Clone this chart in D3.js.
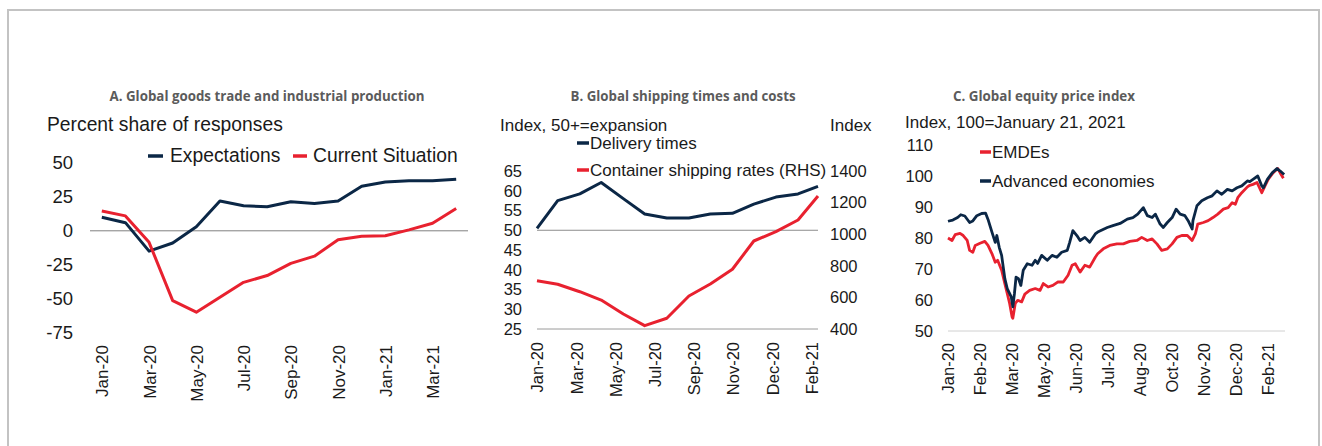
<!DOCTYPE html>
<html><head><meta charset="utf-8">
<script src="https://cdn.jsdelivr.net/npm/d3@7"></script>
<style>
html,body{margin:0;padding:0;background:#fff;}
svg{display:block;}
text{font-family:'Liberation Sans',Arial,Helvetica,sans-serif;fill:#1a1a1a;}
</style>
</head><body>
<svg id="chart" width="1322" height="446"></svg>
<script>
// ---------- Panel A data ----------
const monthsA = ["Jan-20","Feb-20","Mar-20","Apr-20","May-20","Jun-20","Jul-20","Aug-20","Sep-20","Oct-20","Nov-20","Dec-20","Jan-21","Feb-21","Mar-21","Apr-21"];
const expectations = [10,6,-15,-9,3,22,18.5,17.7,21.4,20.2,22,32.8,36,37,37,38];
const currentSituation = [14.6,11,-8.5,-51.5,-60,-49,-38,-33,-24,-18.7,-6.6,-4,-3.6,0.7,5.6,16.5];
const yTicksA = [50,25,0,-25,-50,-75];
const xTickLabelsA = ["Jan-20","Mar-20","May-20","Jul-20","Sep-20","Nov-20","Jan-21","Mar-21"];

// ---------- Panel B data ----------
const shipDates = ["2020-01-31","2020-02-29","2020-03-31","2020-04-30","2020-05-31","2020-06-30","2020-07-31","2020-08-31","2020-09-30","2020-10-31","2020-11-30","2020-12-31","2021-01-31","2021-02-28"];
const deliveryTimes = [50.5,57.5,59.2,62.1,58,54.1,53.1,53.1,54.1,54.3,56.6,58.4,59.2,61.1];
const containerRates = [706,683,636,583,495,421,468,609,685,778,957,1016,1090,1242];
const yTicksBLeft = [25,30,35,40,45,50,55,60,65];
const yTicksBRight = [400,600,800,1000,1200,1400];
const xTickLabelsB = ["Jan-20","Mar-20","May-20","Jul-20","Sep-20","Nov-20","Dec-20","Feb-21"];

// ---------- Panel C data (days since 2 Jan 2020) ----------
const advDays = [0,6,12,16,21,27,31,36,42,47,50,55,59,61,64,67,71,74,79,81,83,85,88,91,94,99,105,109,112,117,124,130,136,142,149,152,156,161,165,171,177,184,187,199,206,215,224,231,237,244,249,255,259,265,269,274,280,285,290,296,300,305,306,311,317,324,330,336,342,349,355,361,367,374,377,381,387,392,394,399,405,411,415,420];
const advanced = [85.4,85.8,86.6,87.5,87.1,85.0,85.5,87.2,87.9,88.0,86.0,81.8,78.6,80.8,77.0,74.4,66.9,63.7,61.0,57.8,62.1,67.4,66.9,64.7,69.6,71.7,71.2,72.8,71.8,74.4,72.8,74.4,73.8,75.4,76.0,78.6,82.4,80.8,79.2,80.2,78.6,81.3,81.9,83.4,84.0,84.7,86.1,86.6,87.7,89.8,87.2,86.6,87.7,84.5,83.4,85.0,86.6,89.3,87.7,87.2,85.6,82.9,85.6,90.4,92.0,93.0,93.6,95.2,94.1,95.7,95.2,96.2,96.8,98.4,98.2,98.9,100.0,96.8,96.2,98.9,101.0,102.4,101.6,100.5];
const emdeDays = [0,5,9,15,19,24,27,31,34,40,46,50,55,59,62,67,71,74,77,80,81,84,87,92,96,102,109,115,119,125,131,137,144,150,155,159,165,171,177,184,187,194,202,211,219,227,236,242,249,255,261,267,274,280,286,292,299,305,309,312,319,325,331,337,344,350,355,359,362,367,374,377,381,386,392,396,400,406,412,415,419];
const emdes = [80.0,79.2,81.1,81.5,80.8,79.2,76.0,75.4,77.6,78.3,78.9,77.6,74.9,72.2,72.8,69.6,65.3,62.1,58.9,54.6,54.1,58.9,59.9,59.4,61.9,63.1,63.7,63.1,65.3,64.2,64.7,65.8,65.8,68.0,71.2,71.7,69.0,71.2,70.6,73.8,74.9,76.5,77.6,78.1,78.1,78.9,79.2,80.2,79.2,79.7,78.1,76.0,76.5,78.1,80.2,80.8,80.8,79.2,81.3,84.5,85.0,85.6,86.6,87.7,89.3,89.8,91.4,90.9,93.0,94.6,96.5,97.0,97.3,97.9,94.6,96.8,98.9,101.0,102.4,101.0,99.3];
const yTicksC = [50,60,70,80,90,100,110];
const xTickLabelsC = ["Jan-20","Feb-20","Mar-20","May-20","Jun-20","Jul-20","Aug-20","Oct-20","Nov-20","Dec-20","Feb-21"];

// ---------- styles ----------
const NAVY = "#0b2746", RED = "#e8212f", TITLE = "#5b5b5b";
const plain = d => String(d);
const svg = d3.select("#chart");

// outer border
svg.append("path").attr("d","M8,446V10H1319V446").attr("fill","none").attr("stroke","#c3c3c3").attr("stroke-width",2);

function title(txt, cx, width){
  svg.append("text").attr("x",cx).attr("y",101).attr("text-anchor","middle")
    .style("font-family","'Open Sans',Lato,sans-serif").style("font-weight","700")
    .style("font-size","14px").style("fill",TITLE)
    .attr("textLength",width).attr("lengthAdjust","spacingAndGlyphs").text(txt);
}
function label(txt,x,y,size,anchor){
  svg.append("text").attr("x",x).attr("y",y).attr("text-anchor",anchor||"start")
    .style("font-size",size+"px").text(txt);
}
function styleAxis(g,size){
  g.select(".domain").remove();
  g.attr("font-family","'Liberation Sans',Arial,sans-serif").attr("font-size",size).attr("color","#1a1a1a");
}
function rotateX(g,gap){
  g.selectAll(".tick text").attr("x",0).attr("y",0).attr("dy","0.35em")
    .attr("text-anchor","end").attr("transform",`translate(0,${gap}) rotate(-90)`);
}

// ================= Panel A =================
title("A. Global goods trade and industrial production",267,315);
label("Percent share of responses",47,131,19.3);
const xA = d3.scaleBand().domain(monthsA).range([90,468]);
const cA = m => xA(m)+xA.bandwidth()/2;
const yA = d3.scaleLinear().domain([-75,50]).range([332.5,163]);
svg.append("line").attr("x1",90).attr("x2",468).attr("y1",yA(0)).attr("y2",yA(0)).attr("stroke","#808080").attr("stroke-width",1);
svg.append("g").attr("transform","translate(90,0)")
  .call(d3.axisLeft(yA).tickValues(yTicksA).tickSize(0).tickPadding(17).tickFormat(plain))
  .call(g=>styleAxis(g,18.5));
const xAxisA = d3.axisBottom(d3.scalePoint().domain(monthsA).range([cA(monthsA[0]),cA(monthsA[monthsA.length-1])]))
  .tickValues(xTickLabelsA).tickSize(0);
svg.append("g").attr("transform","translate(0,333)").call(xAxisA).call(g=>styleAxis(g,17)).call(g=>rotateX(g,12));
const lineA = d3.line().x((d,i)=>cA(monthsA[i])).y(d=>yA(d)).curve(d3.curveLinear);
svg.append("path").datum(expectations).attr("d",lineA).attr("fill","none").attr("stroke",NAVY).attr("stroke-width",3).attr("stroke-linejoin","round");
svg.append("path").datum(currentSituation).attr("d",lineA).attr("fill","none").attr("stroke",RED).attr("stroke-width",3).attr("stroke-linejoin","round");
// legend A
svg.append("line").attr("x1",148).attr("x2",163).attr("y1",156).attr("y2",156).attr("stroke",NAVY).attr("stroke-width",3.5);
label("Expectations",170,161.5,19.3);
svg.append("line").attr("x1",293).attr("x2",307).attr("y1",156).attr("y2",156).attr("stroke",RED).attr("stroke-width",3.5);
label("Current Situation",313,161.5,19.3);

// ================= Panel B =================
title("B. Global shipping times and costs",683,225);
label("Index, 50+=expansion",500,131,17);
label("Index",830,131,17);
const parse = d3.timeParse("%Y-%m-%d");
const datesB = shipDates.map(parse);
const xB = d3.scaleTime().domain([datesB[0],datesB[datesB.length-1]]).range([537,818]);
const yBL = d3.scaleLinear().domain([25,65]).range([329,171]);
const yBR = d3.scaleLinear().domain([400,1400]).range([329,171]);
svg.append("line").attr("x1",537).attr("x2",818).attr("y1",yBL(50)).attr("y2",yBL(50)).attr("stroke","#8c8c8c").attr("stroke-width",1);
svg.append("line").attr("x1",537).attr("x2",818).attr("y1",yBL(25)).attr("y2",yBL(25)).attr("stroke","#9a9a9a").attr("stroke-width",1);
svg.append("g").attr("transform","translate(537,0)")
  .call(d3.axisLeft(yBL).tickValues(yTicksBLeft).tickSize(0).tickPadding(15).tickFormat(plain)).call(g=>styleAxis(g,16.5));
svg.append("g").attr("transform","translate(818,0)")
  .call(d3.axisRight(yBR).tickValues(yTicksBRight).tickSize(0).tickPadding(12).tickFormat(plain)).call(g=>styleAxis(g,16.5));
const ticksB = d3.range(xTickLabelsB.length).map(i=>d3.timeDay.offset(datesB[0],55*i));
svg.append("g").attr("transform","translate(0,329)")
  .call(d3.axisBottom(xB).tickValues(ticksB).tickSize(0).tickFormat((d,i)=>xTickLabelsB[i]))
  .call(g=>styleAxis(g,16.5)).call(g=>rotateX(g,13));
svg.append("path").datum(deliveryTimes).attr("d",d3.line().x((d,i)=>xB(datesB[i])).y(d=>yBL(d)))
  .attr("fill","none").attr("stroke",NAVY).attr("stroke-width",3).attr("stroke-linejoin","round");
svg.append("path").datum(containerRates).attr("d",d3.line().x((d,i)=>xB(datesB[i])).y(d=>yBR(d)))
  .attr("fill","none").attr("stroke",RED).attr("stroke-width",3).attr("stroke-linejoin","round");
svg.append("line").attr("x1",577).attr("x2",589).attr("y1",143).attr("y2",143).attr("stroke",NAVY).attr("stroke-width",3.5);
label("Delivery times",590,148.5,17);
svg.append("line").attr("x1",577).attr("x2",589).attr("y1",170).attr("y2",170).attr("stroke",RED).attr("stroke-width",3.5);
label("Container shipping rates (RHS)",590,176,17);

// ================= Panel C =================
title("C. Global equity price index",1044,182);
label("Index, 100=January 21, 2021",905,128,17);
const startC = new Date(2020,0,2);
const xC = d3.scaleTime().domain([startC,d3.timeDay.offset(startC,421)]).range([948,1285]);
const yC = d3.scaleLinear().domain([50,110]).range([331,145]);
svg.append("line").attr("x1",948).attr("x2",1285).attr("y1",yC(50)).attr("y2",yC(50)).attr("stroke","#d0d0d0").attr("stroke-width",1);
svg.append("g").attr("transform","translate(948,0)")
  .call(d3.axisLeft(yC).tickValues(yTicksC).tickSize(0).tickPadding(15).tickFormat(plain)).call(g=>styleAxis(g,16.5));
const ticksC = d3.range(xTickLabelsC.length).map(i=>d3.timeDay.offset(startC,40*i));
svg.append("g").attr("transform","translate(0,331)")
  .call(d3.axisBottom(xC).tickValues(ticksC).tickSize(0).tickFormat((d,i)=>xTickLabelsC[i]))
  .call(g=>styleAxis(g,16.5)).call(g=>rotateX(g,12));
const lineC = days => d3.line().x((d,i)=>xC(d3.timeDay.offset(startC,days[i]))).y(d=>yC(d));
svg.append("path").datum(emdes).attr("d",lineC(emdeDays)).attr("fill","none").attr("stroke",RED).attr("stroke-width",2.8).attr("stroke-linejoin","round");
svg.append("path").datum(advanced).attr("d",lineC(advDays)).attr("fill","none").attr("stroke",NAVY).attr("stroke-width",2.8).attr("stroke-linejoin","round");
svg.append("line").attr("x1",980).attr("x2",991).attr("y1",152).attr("y2",152).attr("stroke",RED).attr("stroke-width",3.5);
label("EMDEs",992,157.5,17);
svg.append("line").attr("x1",980).attr("x2",991).attr("y1",181).attr("y2",181).attr("stroke",NAVY).attr("stroke-width",3.5);
label("Advanced economies",992,187,17);
</script>
</body></html>
